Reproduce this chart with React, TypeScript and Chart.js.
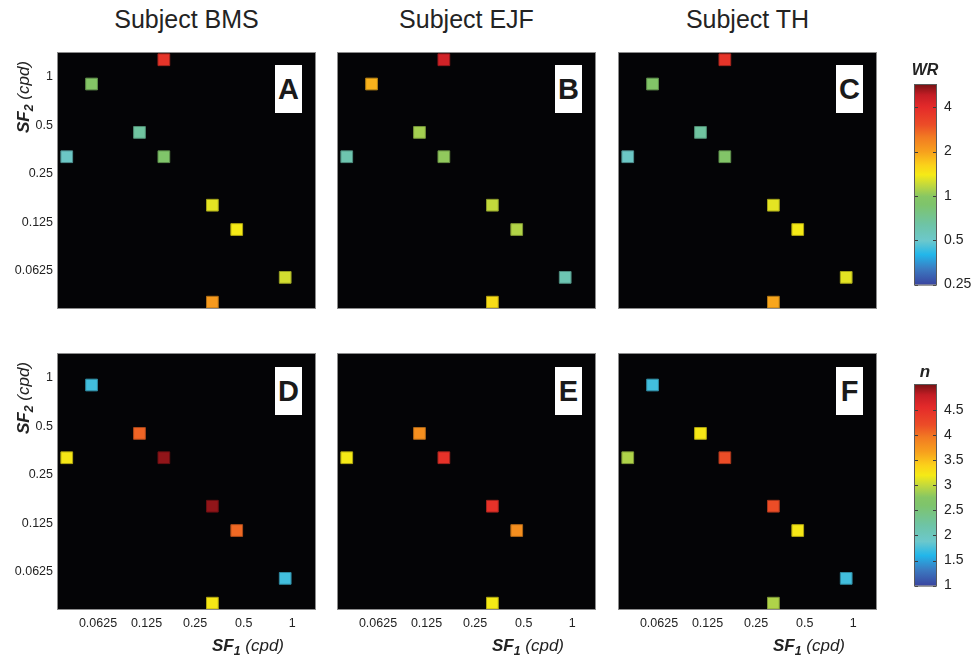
import React, { useEffect, useRef } from "react";
import { Chart, registerables } from "chart.js";

Chart.register(...registerables);

// Stimulus conditions: spatial frequency of component 1 and component 2 (cpd)
const sf1 = [0.16, 0.057, 0.113, 0.04, 0.16, 0.32, 0.453, 0.905, 0.32];
const sf2 = [1.28, 0.905, 0.453, 0.32, 0.32, 0.16, 0.113, 0.057, 0.04];

const subjects = ["BMS", "EJF", "TH"];

// Weight ratio (WR) per condition, one list per subject
const wrBMS = [3.7, 0.95, 0.66, 0.52, 0.9, 1.32, 1.39, 1.25, 2.08];
const wrEJF = [4.5, 1.85, 1.08, 0.6, 1.02, 1.19, 1.13, 0.59, 1.5];
const wrTH = [3.7, 0.92, 0.66, 0.52, 0.92, 1.32, 1.39, 1.32, 1.95];

// Exponent n per condition (null = not fitted)
const nBMS = [null, 1.72, 4.08, 3.22, 4.94, 4.94, 4.05, 1.72, 3.22];
const nEJF = [null, null, 3.8, 3.2, 4.48, 4.48, 3.8, null, 3.2];
const nTH = [null, 1.72, 3.22, 2.92, 4.2, 4.2, 3.22, 1.72, 2.92];

const sfTicks = [0.0625, 0.125, 0.25, 0.5, 1];
const sfRange = [0.0353, 1.385];
const sf2Range = [0.0368, 1.41];
const wrTicks = [0.25, 0.5, 1, 2, 4];
const wrRange = [0.25, 5.66];
const nTicks = [1, 1.5, 2, 2.5, 3, 3.5, 4, 4.5];
const nRange = [1, 5];

const FONT = "'Liberation Sans', Arial, Helvetica, sans-serif";
const INK = "#232323";

// Jet-like colormap stops (fraction, colour)
const CMAP: [number, string][] = [
  [0.0, "#3a45a0"],
  [0.08, "#3b7cc2"],
  [0.15, "#22b6ea"],
  [0.22, "#6cc8cc"],
  [0.3, "#6ec4a6"],
  [0.4, "#7ec46c"],
  [0.44, "#86c664"],
  [0.5, "#c3d93c"],
  [0.55, "#f5ea16"],
  [0.6, "#fbd01a"],
  [0.667, "#f7a01d"],
  [0.74, "#f27a22"],
  [0.8, "#ec4d27"],
  [0.89, "#e42a2a"],
  [0.95, "#c41d25"],
  [1.0, "#7b1214"],
];

function hexToRgb(h: string) {
  const n = parseInt(h.slice(1), 16);
  return [(n >> 16) & 255, (n >> 8) & 255, n & 255];
}

function cmap(f: number, k = 1) {
  const t = Math.max(0, Math.min(1, f));
  let i = 0;
  while (i < CMAP.length - 2 && t > CMAP[i + 1][0]) i++;
  const [f0, c0] = CMAP[i];
  const [f1, c1] = CMAP[i + 1];
  const u = (t - f0) / (f1 - f0);
  const a = hexToRgb(c0);
  const b = hexToRgb(c1);
  const c = a.map((v, j) => Math.round((v + (b[j] - v) * u) * k));
  return `rgb(${c[0]},${c[1]},${c[2]})`;
}

function fraction(v: number, range: number[], log: boolean) {
  return log
    ? Math.log(v / range[0]) / Math.log(range[1] / range[0])
    : (v - range[0]) / (range[1] - range[0]);
}

const panelFrame = {
  id: "panelFrame",
  beforeDraw(chart: any) {
    const { ctx, chartArea: a } = chart;
    ctx.save();
    ctx.fillStyle = "#040406";
    ctx.fillRect(a.left, a.top, a.right - a.left, a.bottom - a.top);
    ctx.restore();
  },
  afterDraw(chart: any) {
    const { ctx, chartArea: a } = chart;
    ctx.save();
    ctx.strokeStyle = "#8c8c8c";
    ctx.lineWidth = 1;
    ctx.strokeRect(a.left - 0.5, a.top - 0.5, a.right - a.left + 1, a.bottom - a.top + 1);
    ctx.restore();
  },
};

const Y_AXIS_W = 58;
const X_AXIS_H = 30;
const PAD_TOP = 13;
const PAD_RIGHT = 10;
const AREA_W = 257;
const AREA_H = 255;

function Panel(props: {
  values: (number | null)[];
  range: number[];
  log: boolean;
  left: number;
  top: number;
  showX: boolean;
  showY: boolean;
}) {
  const ref = useRef<HTMLCanvasElement>(null);
  const { values, range, log, left, top, showX, showY } = props;
  const W = Y_AXIS_W + AREA_W + PAD_RIGHT;
  const H = PAD_TOP + AREA_H + X_AXIS_H;

  useEffect(() => {
    const pts = values
      .map((v, i) => (v == null ? null : { x: sf1[i], y: sf2[i], v }))
      .filter(Boolean) as { x: number; y: number; v: number }[];
    const fills = pts.map((p) => cmap(fraction(p.v, range, log)));
    const edges = pts.map((p) => cmap(fraction(p.v, range, log), 0.72));
    const tickFont = { family: FONT, size: 12.5 };
    const chart = new Chart(ref.current!, {
      type: "scatter",
      data: {
        datasets: [
          {
            data: pts,
            pointStyle: "rect",
            pointRadius: 8.3,
            pointHoverRadius: 8.3,
            backgroundColor: fills,
            borderColor: edges,
            borderWidth: 1,
            clip: false,
          } as any,
        ],
      },
      options: {
        animation: false,
        responsive: false,
        events: [],
        layout: { padding: { top: PAD_TOP, right: PAD_RIGHT, left: 0, bottom: 0 } },
        plugins: { legend: { display: false }, tooltip: { enabled: false } },
        scales: {
          x: {
            type: "logarithmic",
            min: sfRange[0],
            max: sfRange[1],
            grid: { display: false, drawTicks: false },
            border: { display: false },
            afterBuildTicks: (s: any) => {
              s.ticks = sfTicks.map((v) => ({ value: v }));
            },
            afterFit: (s: any) => {
              s.height = X_AXIS_H;
            },
            ticks: {
              display: showX,
              autoSkip: false,
              maxRotation: 0,
              padding: 7,
              color: INK,
              font: tickFont,
              callback: (v: any) => String(v),
            },
          },
          y: {
            type: "logarithmic",
            min: sf2Range[0],
            max: sf2Range[1],
            grid: { display: false, drawTicks: false },
            border: { display: false },
            afterBuildTicks: (s: any) => {
              s.ticks = sfTicks.map((v) => ({ value: v }));
            },
            afterFit: (s: any) => {
              s.width = Y_AXIS_W;
            },
            ticks: {
              display: showY,
              autoSkip: false,
              padding: 5,
              color: INK,
              font: tickFont,
              callback: (v: any) => String(v),
            },
          },
        },
      },
      plugins: [panelFrame],
    });
    return () => chart.destroy();
  }, []);

  return (
    <canvas
      ref={ref}
      width={W}
      height={H}
      style={{ position: "absolute", left: left - Y_AXIS_W, top: top - PAD_TOP, width: W, height: H }}
    />
  );
}

const colorbarFill = {
  id: "colorbarFill",
  beforeDraw(chart: any, _args: any, opts: any) {
    const { ctx, chartArea: a } = chart;
    const ys = chart.scales.y;
    const { range, ticks } = opts;
    const yLo = ys.getPixelForValue(range[0]);
    const yHi = ys.getPixelForValue(range[1]);
    const g = ctx.createLinearGradient(0, yLo, 0, yHi);
    for (const [f] of CMAP) g.addColorStop(f, cmap(f));
    ctx.save();
    ctx.fillStyle = g;
    ctx.fillRect(a.left, a.top, a.right - a.left, a.bottom - a.top);
    ctx.strokeStyle = "#3c3c3c";
    ctx.lineWidth = 1;
    for (const t of ticks as number[]) {
      const y = Math.round(ys.getPixelForValue(t)) + 0.5;
      ctx.beginPath();
      ctx.moveTo(a.left, y);
      ctx.lineTo(a.left + 3, y);
      ctx.moveTo(a.right - 3, y);
      ctx.lineTo(a.right, y);
      ctx.stroke();
    }
    ctx.strokeStyle = "#5a5a5a";
    ctx.strokeRect(a.left - 0.5, a.top - 0.5, a.right - a.left + 1, a.bottom - a.top + 1);
    ctx.restore();
  },
};

function Colorbar(props: { top: number; range: number[]; ticks: number[]; log: boolean; barH: number }) {
  const ref = useRef<HTMLCanvasElement>(null);
  const { top, range, ticks, log, barH } = props;
  const W = 69;
  const H = 25 + barH + 10;
  useEffect(() => {
    const chart = new Chart(ref.current!, {
      type: "scatter",
      data: { datasets: [] },
      options: {
        animation: false,
        responsive: false,
        events: [],
        layout: { padding: { top: 25, bottom: 10, left: 10, right: 0 } },
        plugins: {
          legend: { display: false },
          tooltip: { enabled: false },
          colorbarFill: { range, ticks },
        } as any,
        scales: {
          x: { display: false, min: 0, max: 1 },
          y: {
            type: log ? "logarithmic" : "linear",
            position: "right",
            min: range[0],
            max: range[1],
            grid: { display: false, drawTicks: false },
            border: { display: false },
            afterBuildTicks: (s: any) => {
              s.ticks = ticks.map((v) => ({ value: v }));
            },
            afterFit: (s: any) => {
              s.width = W - 10 - 21;
            },
            ticks: {
              autoSkip: false,
              padding: 8,
              color: INK,
              font: { family: FONT, size: 14 },
              callback: (v: any) => String(v),
            },
          } as any,
        },
      },
      plugins: [colorbarFill],
    });
    return () => chart.destroy();
  }, []);
  return (
    <canvas
      ref={ref}
      width={W}
      height={H}
      style={{ position: "absolute", left: 905, top, width: W, height: H }}
    />
  );
}

const cols = [58, 338, 619];
const rows = [53, 354];
const letters = [
  ["A", "B", "C"],
  ["D", "E", "F"],
];

function SFLabel(props: { idx: string }) {
  return (
    <span style={{ whiteSpace: "nowrap" }}>
      <span style={{ fontWeight: "bold", fontStyle: "italic" }}>
        SF
        <span style={{ fontSize: "0.72em", position: "relative", top: "0.3em" }}>{props.idx}</span>
      </span>
      <span style={{ fontStyle: "italic" }}> (cpd)</span>
    </span>
  );
}

export default function App() {
  const wr = [wrBMS, wrEJF, wrTH];
  const ns = [nBMS, nEJF, nTH];
  return (
    <div
      style={{
        position: "absolute",
        left: 0,
        top: 0,
        width: 974,
        height: 660,
        background: "#fff",
        fontFamily: FONT,
        color: INK,
        overflow: "hidden",
      }}
    >
      {subjects.map((s, c) => (
        <div
          key={"t" + s}
          style={{
            position: "absolute",
            left: cols[c] + AREA_W / 2,
            top: 19,
            transform: "translate(-50%, -50%)",
            fontSize: 25,
            whiteSpace: "nowrap",
          }}
        >
          Subject {s}
        </div>
      ))}
      {[0, 1].map((r) =>
        cols.map((cx, c) => (
          <Panel
            key={`p${r}${c}`}
            values={r === 0 ? wr[c] : ns[c]}
            range={r === 0 ? wrRange : nRange}
            log={r === 0}
            left={cx}
            top={rows[r]}
            showX={r === 1}
            showY={c === 0}
          />
        ))
      )}
      {[0, 1].map((r) =>
        cols.map((cx, c) => (
          <div
            key={`l${r}${c}`}
            style={{
              position: "absolute",
              left: cx + 217,
              top: rows[r] + 12 + r,
              width: 27,
              height: 48,
              background: "#fff",
              display: "flex",
              alignItems: "center",
              justifyContent: "center",
              fontWeight: "bold",
              fontSize: 29,
              color: "#1a1a1a",
            }}
          >
            {letters[r][c]}
          </div>
        ))
      )}
      {rows.map((ry, r) => (
        <div
          key={"yl" + r}
          style={{
            position: "absolute",
            left: 24,
            top: ry + 44,
            transform: "translate(-50%, -50%) rotate(-90deg)",
            fontSize: 17,
          }}
        >
          <SFLabel idx="2" />
        </div>
      ))}
      {cols.map((cx, c) => (
        <div
          key={"xl" + c}
          style={{
            position: "absolute",
            left: cx + 190,
            top: 646,
            transform: "translate(-50%, -50%)",
            fontSize: 17,
          }}
        >
          <SFLabel idx="1" />
        </div>
      ))}
      <Colorbar top={60} range={wrRange} ticks={wrTicks} log={true} barH={206} />
      <Colorbar top={360} range={nRange} ticks={nTicks} log={false} barH={207} />
      <div
        style={{
          position: "absolute",
          left: 925,
          top: 70,
          transform: "translate(-50%, -50%)",
          fontSize: 16,
          fontWeight: "bold",
          fontStyle: "italic",
        }}
      >
        WR
      </div>
      <div
        style={{
          position: "absolute",
          left: 925,
          top: 372,
          transform: "translate(-50%, -50%)",
          fontSize: 17,
          fontWeight: "bold",
          fontStyle: "italic",
        }}
      >
        n
      </div>
    </div>
  );
}
